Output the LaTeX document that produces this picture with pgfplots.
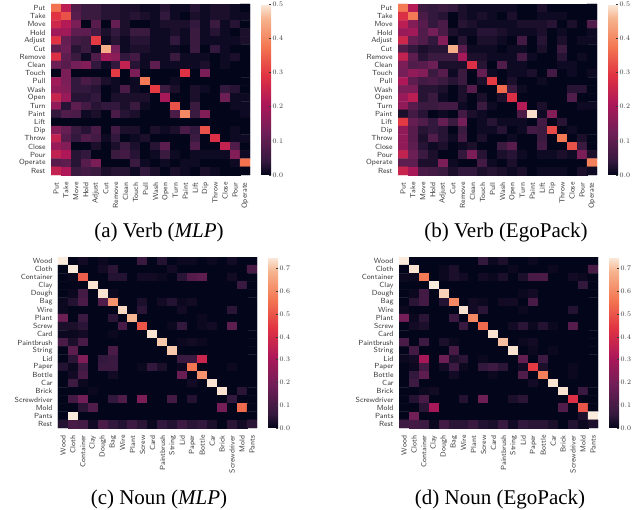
\documentclass[border=0pt]{standalone}
\usepackage{fontspec}
\setmainfont{Liberation Serif}
\usepackage{pgfplots}
\usepackage{pgfplotstable}
\pgfplotsset{compat=1.18}
\definecolor{lab}{gray}{0.22}
\pgfplotsset{
  verblabels/.style={
    xticklabels={Put,Take,Move,Hold,Adjust,Cut,Remove,Clean,Touch,Pull,Wash,Open,Turn,Paint,Lift,Dip,Throw,Close,Pour,Operate},
    yticklabels={Put,Take,Move,Hold,Adjust,Cut,Remove,Clean,Touch,Pull,Wash,Open,Turn,Paint,Lift,Dip,Throw,Close,Pour,Operate,Rest}},
  nounlabels/.style={
    xticklabels={Wood,Cloth,Container,Clay,Dough,Bag,Wire,Plant,Screw,Card,Paintbrush,String,Lid,Paper,Bottle,Car,Brick,Screwdriver,Mold,Pants},
    yticklabels={Wood,Cloth,Container,Clay,Dough,Bag,Wire,Plant,Screw,Card,Paintbrush,String,Lid,Paper,Bottle,Car,Brick,Screwdriver,Mold,Pants,Rest}},
  heat/.style={
    scale only axis, width=199pt, height=171pt, y dir=reverse,
    xmin=-0.5, xmax=19.5, ymin=-0.5, ymax=20.5,
    xtick={0,...,19}, ytick={0,...,20},
    axis line style={draw=none}, major tick length=0pt, tick style={draw=none},
    xtick pos=bottom, ytick pos=left,
    x tick label style={rotate=90, anchor=east, inner sep=0pt, outer sep=0pt, xshift=-7.5pt, font=\sffamily\fontsize{7.4}{8}\selectfont, text=lab},
    y tick label style={anchor=east, inner sep=0pt, outer sep=0pt, xshift=-5.5pt, font=\sffamily\fontsize{7.4}{8}\selectfont, text=lab},
    colormap={rocket}{rgb255(0)=(3,5,26) rgb255(1)=(53,25,62) rgb255(3)=(112,31,87) rgb255(5)=(173,23,89) rgb255(7)=(225,51,66) rgb255(9)=(243,118,81) rgb255(11)=(246,180,143) rgb255(12)=(250,235,221)},
    point meta min=0, colorbar,
    colorbar style={at={(parent axis.north east)}, anchor=north west, xshift=2.5pt,
      width=10pt, axis line style={draw=none}, ytick pos=right,
      xticklabels={}, yticklabel pos=right,
      tick style={draw=lab, line width=0.4pt}, major tick length=2pt,
      y tick label style={inner sep=1.5pt, font=\fontsize{7.4}{8}\selectfont, text=lab,
        /pgf/number format/fixed, /pgf/number format/fixed zerofill, /pgf/number format/precision=1}},
  },
  cell/.style={matrix plot*, mesh/cols=20, mesh/rows=21, point meta=explicit},
}
\newcommand{\cellplot}[1]{\addplot[cell] table[x index=0, y index=0, x expr={round(\coordindex-20*floor((\coordindex+0.5)/20))}, y expr={floor((\coordindex+0.5)/20)}, meta=v] {#1};}
\pgfplotstableread[row sep=crcr]{v\\
.37\\.23\\.08\\.05\\.05\\.03\\.03\\.02\\.02\\.01\\.01\\.03\\.01\\.01\\.03\\.01\\.02\\.02\\.01\\.00\\
.29\\.33\\.09\\.05\\.05\\.03\\.03\\.02\\.03\\.02\\.01\\.04\\.01\\.00\\.02\\.01\\.02\\.02\\.01\\.01\\
.26\\.22\\.14\\.00\\.09\\.00\\.11\\.02\\.00\\.00\\.01\\.02\\.02\\.02\\.04\\.01\\.05\\.01\\.03\\.00\\
.19\\.19\\.10\\.10\\.06\\.02\\.04\\.02\\.05\\.05\\.01\\.01\\.02\\.01\\.05\\.01\\.03\\.01\\.00\\.02\\
.29\\.11\\.06\\.05\\.30\\.01\\.03\\.01\\.03\\.03\\.01\\.01\\.04\\.01\\.05\\.01\\.01\\.01\\.01\\.02\\
.10\\.12\\.03\\.05\\.01\\.45\\.13\\.01\\.02\\.02\\.01\\.01\\.01\\.00\\.05\\.00\\.04\\.01\\.00\\.00\\
.28\\.10\\.05\\.01\\.08\\.19\\.16\\.04\\.06\\.01\\.01\\.01\\.05\\.01\\.01\\.01\\.00\\.01\\.02\\.00\\
.12\\.09\\.13\\.15\\.04\\.01\\.04\\.24\\.03\\.01\\.10\\.01\\.01\\.01\\.01\\.02\\.00\\.01\\.00\\.00\\
.00\\.14\\.00\\.00\\.00\\.00\\.30\\.00\\.14\\.00\\.00\\.00\\.00\\.29\\.00\\.14\\.00\\.00\\.00\\.00\\
.19\\.14\\.04\\.07\\.05\\.02\\.01\\.00\\.01\\.38\\.00\\.00\\.01\\.00\\.00\\.00\\.00\\.00\\.00\\.00\\
.17\\.15\\.04\\.04\\.03\\.00\\.01\\.07\\.01\\.00\\.30\\.05\\.02\\.00\\.02\\.01\\.00\\.04\\.03\\.00\\
.25\\.18\\.03\\.03\\.04\\.00\\.02\\.02\\.02\\.02\\.00\\.20\\.00\\.00\\.02\\.00\\.00\\.12\\.01\\.01\\
.17\\.03\\.10\\.06\\.03\\.04\\.04\\.02\\.05\\.01\\.00\\.00\\.33\\.00\\.05\\.00\\.00\\.00\\.01\\.01\\
.04\\.08\\.07\\.01\\.02\\.00\\.07\\.03\\.02\\.00\\.00\\.00\\.07\\.40\\.05\\.15\\.00\\.00\\.00\\.01\\
.00\\.00\\.00\\.00\\.00\\.00\\.00\\.00\\.00\\.00\\.00\\.00\\.00\\.00\\.00\\.00\\.00\\.00\\.00\\.00\\
.15\\.11\\.05\\.03\\.07\\.00\\.06\\.02\\.02\\.00\\.02\\.01\\.02\\.07\\.04\\.33\\.00\\.00\\.01\\.00\\
.24\\.09\\.04\\.08\\.06\\.01\\.04\\.00\\.01\\.02\\.00\\.00\\.00\\.00\\.05\\.00\\.28\\.00\\.01\\.01\\
.18\\.15\\.00\\.00\\.02\\.00\\.02\\.05\\.02\\.00\\.03\\.10\\.00\\.00\\.08\\.00\\.00\\.24\\.08\\.00\\
.24\\.21\\.03\\.04\\.00\\.00\\.05\\.06\\.03\\.00\\.01\\.05\\.01\\.00\\.01\\.01\\.01\\.01\\.15\\.01\\
.09\\.10\\.03\\.09\\.14\\.00\\.00\\.00\\.05\\.01\\.00\\.01\\.00\\.01\\.01\\.00\\.00\\.00\\.01\\.37\\
.24\\.21\\.05\\.06\\.05\\.02\\.03\\.03\\.01\\.04\\.02\\.00\\.02\\.01\\.00\\.02\\.01\\.00\\.00\\.00\\
}\tableA
\pgfplotstableread[row sep=crcr]{v\\
.38\\.22\\.05\\.04\\.05\\.04\\.02\\.01\\.01\\.01\\.01\\.01\\.00\\.00\\.02\\.00\\.00\\.00\\.00\\.00\\
.28\\.38\\.07\\.04\\.03\\.00\\.02\\.01\\.02\\.01\\.00\\.02\\.00\\.00\\.01\\.01\\.01\\.00\\.00\\.00\\
.23\\.15\\.09\\.04\\.07\\.00\\.03\\.02\\.01\\.01\\.01\\.01\\.02\\.02\\.02\\.03\\.00\\.02\\.00\\.08\\
.18\\.19\\.08\\.13\\.07\\.02\\.01\\.01\\.03\\.03\\.02\\.01\\.01\\.01\\.02\\.00\\.01\\.00\\.00\\.01\\
.26\\.11\\.08\\.04\\.15\\.00\\.03\\.00\\.02\\.02\\.01\\.00\\.06\\.00\\.03\\.00\\.02\\.00\\.01\\.01\\
.08\\.04\\.02\\.03\\.03\\.45\\.09\\.01\\.01\\.01\\.00\\.01\\.01\\.00\\.02\\.00\\.05\\.00\\.00\\.00\\
.24\\.10\\.03\\.05\\.05\\.05\\.20\\.02\\.02\\.01\\.01\\.01\\.06\\.01\\.00\\.00\\.03\\.00\\.01\\.00\\
.14\\.08\\.09\\.12\\.02\\.02\\.02\\.28\\.03\\.00\\.08\\.01\\.01\\.00\\.00\\.00\\.01\\.01\\.00\\.00\\
.13\\.17\\.15\\.05\\.09\\.01\\.05\\.00\\.11\\.01\\.00\\.01\\.01\\.02\\.00\\.06\\.00\\.01\\.00\\.01\\
.21\\.10\\.06\\.07\\.05\\.03\\.05\\.00\\.02\\.30\\.00\\.02\\.00\\.00\\.01\\.00\\.00\\.00\\.00\\.00\\
.14\\.14\\.03\\.03\\.02\\.00\\.02\\.09\\.00\\.00\\.36\\.05\\.01\\.00\\.00\\.00\\.00\\.03\\.03\\.00\\
.18\\.23\\.03\\.05\\.01\\.00\\.02\\.00\\.02\\.00\\.02\\.28\\.00\\.00\\.00\\.00\\.00\\.08\\.00\\.00\\
.17\\.09\\.05\\.05\\.06\\.06\\.01\\.00\\.05\\.01\\.00\\.00\\.22\\.00\\.02\\.00\\.00\\.00\\.01\\.01\\
.02\\.06\\.03\\.00\\.01\\.00\\.06\\.02\\.01\\.00\\.00\\.00\\.07\\.49\\.01\\.15\\.00\\.00\\.00\\.00\\
.30\\.11\\.08\\.04\\.11\\.05\\.13\\.00\\.01\\.03\\.01\\.01\\.01\\.00\\.06\\.00\\.03\\.00\\.00\\.00\\
.17\\.09\\.03\\.04\\.03\\.00\\.05\\.00\\.01\\.01\\.03\\.00\\.01\\.06\\.05\\.32\\.00\\.01\\.00\\.00\\
.17\\.09\\.02\\.08\\.03\\.01\\.06\\.00\\.02\\.00\\.00\\.01\\.00\\.00\\.05\\.00\\.38\\.00\\.02\\.00\\
.17\\.10\\.03\\.01\\.02\\.00\\.01\\.02\\.00\\.00\\.05\\.09\\.00\\.00\\.06\\.00\\.00\\.33\\.05\\.00\\
.24\\.12\\.05\\.02\\.00\\.00\\.04\\.14\\.03\\.00\\.02\\.03\\.01\\.00\\.01\\.01\\.02\\.01\\.14\\.02\\
.10\\.10\\.02\\.02\\.14\\.01\\.00\\.00\\.06\\.01\\.00\\.02\\.00\\.00\\.00\\.00\\.00\\.00\\.00\\.39\\
.25\\.20\\.07\\.06\\.05\\.02\\.04\\.04\\.02\\.03\\.02\\.01\\.02\\.00\\.01\\.01\\.01\\.00\\.02\\.01\\
}\tableB
\pgfplotstableread[row sep=crcr]{v\\
.75\\.00\\.02\\.00\\.01\\.00\\.00\\.00\\.07\\.00\\.04\\.00\\.01\\.01\\.00\\.01\\.00\\.02\\.00\\.00\\
.00\\.75\\.00\\.00\\.02\\.05\\.00\\.00\\.00\\.00\\.00\\.02\\.00\\.00\\.00\\.00\\.00\\.00\\.00\\.10\\
.00\\.01\\.52\\.00\\.00\\.04\\.04\\.00\\.02\\.02\\.01\\.00\\.05\\.13\\.15\\.00\\.00\\.02\\.00\\.00\\
.00\\.00\\.00\\.74\\.00\\.00\\.00\\.00\\.00\\.00\\.00\\.00\\.00\\.00\\.00\\.00\\.00\\.00\\.07\\.00\\
.00\\.01\\.09\\.00\\.74\\.01\\.00\\.00\\.00\\.00\\.00\\.00\\.00\\.00\\.00\\.00\\.00\\.00\\.00\\.00\\
.01\\.04\\.11\\.00\\.12\\.62\\.00\\.00\\.03\\.00\\.02\\.04\\.01\\.02\\.00\\.00\\.00\\.00\\.00\\.00\\
.01\\.00\\.00\\.00\\.00\\.00\\.73\\.00\\.05\\.00\\.00\\.00\\.02\\.00\\.00\\.00\\.00\\.05\\.00\\.00\\
.18\\.00\\.07\\.00\\.00\\.05\\.00\\.69\\.00\\.00\\.00\\.00\\.00\\.00\\.01\\.00\\.00\\.00\\.00\\.00\\
.03\\.03\\.05\\.00\\.00\\.00\\.10\\.00\\.50\\.00\\.00\\.01\\.06\\.00\\.01\\.02\\.00\\.15\\.00\\.00\\
.01\\.01\\.02\\.00\\.00\\.01\\.00\\.00\\.00\\.74\\.00\\.00\\.00\\.00\\.00\\.00\\.00\\.00\\.00\\.00\\
.11\\.03\\.10\\.00\\.00\\.00\\.00\\.00\\.00\\.00\\.71\\.00\\.01\\.02\\.01\\.00\\.00\\.00\\.00\\.00\\
.00\\.14\\.00\\.00\\.00\\.11\\.00\\.00\\.00\\.00\\.00\\.71\\.00\\.00\\.00\\.00\\.00\\.00\\.00\\.00\\
.00\\.05\\.22\\.00\\.06\\.07\\.00\\.00\\.00\\.00\\.00\\.00\\.07\\.07\\.38\\.00\\.00\\.00\\.00\\.00\\
.04\\.01\\.08\\.00\\.07\\.07\\.00\\.00\\.01\\.06\\.03\\.00\\.01\\.56\\.00\\.00\\.00\\.01\\.00\\.00\\
.00\\.02\\.10\\.00\\.00\\.02\\.00\\.00\\.00\\.00\\.00\\.00\\.17\\.00\\.62\\.00\\.00\\.00\\.00\\.00\\
.00\\.08\\.01\\.00\\.00\\.00\\.00\\.00\\.00\\.00\\.00\\.00\\.00\\.02\\.00\\.74\\.00\\.00\\.00\\.00\\
.00\\.00\\.00\\.01\\.00\\.00\\.00\\.00\\.00\\.00\\.00\\.00\\.00\\.00\\.00\\.00\\.74\\.00\\.05\\.00\\
.00\\.09\\.19\\.00\\.00\\.06\\.12\\.00\\.21\\.00\\.00\\.09\\.00\\.04\\.00\\.00\\.00\\.06\\.00\\.00\\
.00\\.00\\.05\\.12\\.00\\.00\\.00\\.00\\.00\\.00\\.00\\.00\\.00\\.00\\.00\\.00\\.20\\.00\\.54\\.00\\
.00\\.75\\.00\\.00\\.00\\.00\\.00\\.00\\.00\\.00\\.00\\.00\\.00\\.00\\.00\\.00\\.00\\.00\\.00\\.00\\
.04\\.10\\.09\\.02\\.11\\.06\\.04\\.08\\.05\\.01\\.06\\.04\\.08\\.05\\.06\\.03\\.00\\.05\\.02\\.05\\
}\tableC
\pgfplotstableread[row sep=crcr]{v\\
.75\\.00\\.00\\.00\\.00\\.00\\.00\\.00\\.06\\.01\\.03\\.00\\.00\\.01\\.00\\.00\\.00\\.00\\.00\\.00\\
.00\\.74\\.00\\.00\\.01\\.03\\.00\\.00\\.00\\.00\\.00\\.01\\.00\\.00\\.00\\.01\\.00\\.00\\.00\\.10\\
.01\\.01\\.57\\.00\\.01\\.03\\.02\\.00\\.02\\.01\\.03\\.00\\.03\\.10\\.11\\.00\\.00\\.02\\.01\\.00\\
.00\\.00\\.00\\.75\\.00\\.00\\.00\\.00\\.00\\.00\\.00\\.00\\.00\\.00\\.00\\.00\\.00\\.00\\.06\\.00\\
.00\\.01\\.09\\.00\\.72\\.00\\.00\\.00\\.00\\.00\\.00\\.00\\.01\\.02\\.00\\.00\\.00\\.00\\.00\\.00\\
.00\\.05\\.09\\.00\\.04\\.60\\.00\\.02\\.01\\.00\\.02\\.02\\.00\\.10\\.00\\.00\\.00\\.00\\.00\\.00\\
.01\\.00\\.00\\.00\\.00\\.00\\.74\\.02\\.05\\.00\\.00\\.00\\.01\\.00\\.00\\.00\\.00\\.04\\.00\\.00\\
.20\\.01\\.05\\.00\\.00\\.07\\.00\\.60\\.00\\.00\\.00\\.00\\.00\\.00\\.00\\.00\\.00\\.00\\.00\\.00\\
.00\\.02\\.03\\.00\\.00\\.00\\.07\\.00\\.54\\.00\\.00\\.02\\.05\\.01\\.04\\.01\\.00\\.13\\.00\\.00\\
.00\\.00\\.00\\.00\\.00\\.00\\.00\\.00\\.00\\.74\\.00\\.00\\.00\\.00\\.00\\.00\\.00\\.00\\.00\\.00\\
.11\\.00\\.08\\.00\\.03\\.01\\.00\\.00\\.00\\.00\\.70\\.00\\.01\\.02\\.00\\.00\\.00\\.00\\.00\\.00\\
.00\\.09\\.00\\.00\\.00\\.10\\.00\\.00\\.00\\.00\\.00\\.74\\.00\\.01\\.00\\.01\\.00\\.00\\.00\\.00\\
.01\\.02\\.30\\.00\\.18\\.03\\.05\\.00\\.01\\.00\\.00\\.00\\.16\\.00\\.08\\.00\\.00\\.00\\.00\\.00\\
.00\\.01\\.09\\.00\\.02\\.08\\.01\\.00\\.06\\.08\\.05\\.00\\.02\\.45\\.03\\.00\\.00\\.01\\.00\\.00\\
.00\\.06\\.15\\.00\\.00\\.02\\.00\\.00\\.00\\.01\\.00\\.00\\.12\\.00\\.58\\.00\\.00\\.01\\.00\\.00\\
.00\\.08\\.00\\.00\\.00\\.00\\.00\\.00\\.00\\.00\\.00\\.00\\.00\\.02\\.00\\.74\\.00\\.00\\.00\\.00\\
.00\\.00\\.01\\.02\\.00\\.00\\.00\\.00\\.00\\.00\\.00\\.00\\.00\\.00\\.00\\.00\\.74\\.00\\.07\\.00\\
.00\\.04\\.10\\.00\\.00\\.00\\.04\\.00\\.18\\.00\\.00\\.03\\.05\\.00\\.00\\.00\\.00\\.42\\.00\\.00\\
.00\\.00\\.05\\.30\\.00\\.00\\.00\\.00\\.00\\.00\\.00\\.00\\.00\\.00\\.00\\.00\\.12\\.00\\.50\\.00\\
.00\\.19\\.00\\.00\\.00\\.00\\.00\\.00\\.00\\.00\\.00\\.00\\.00\\.00\\.00\\.00\\.00\\.00\\.03\\.75\\
.08\\.09\\.08\\.01\\.09\\.05\\.05\\.07\\.04\\.03\\.07\\.02\\.06\\.05\\.05\\.03\\.00\\.04\\.01\\.03\\
}\tableD
\begin{document}
\begin{tikzpicture}[x=1pt,y=1pt]
\path[use as bounding box] (0,0) rectangle (637,509);
\begin{axis}[heat, verblabels, at={(51pt,334pt)}, anchor=south west, point meta max=0.5,
  colorbar style={ytick={0,0.1,0.2,0.3,0.4,0.5}}]
\cellplot{\tableA}
\end{axis}
\begin{axis}[heat, verblabels, at={(398pt,334pt)}, anchor=south west, point meta max=0.5,
  colorbar style={ytick={0,0.1,0.2,0.3,0.4,0.5}}]
\cellplot{\tableB}
\end{axis}
\begin{axis}[heat, nounlabels, at={(58pt,81pt)}, anchor=south west, point meta max=0.75,
  colorbar style={ytick={0,0.1,0.2,0.3,0.4,0.5,0.6,0.7}}]
\cellplot{\tableC}
\end{axis}
\begin{axis}[heat, nounlabels, at={(399pt,81pt)}, anchor=south west, point meta max=0.75,
  colorbar style={ytick={0,0.1,0.2,0.3,0.4,0.5,0.6,0.7}}]
\cellplot{\tableD}
\end{axis}
\node[font=\fontsize{21}{22}\selectfont] at (159,277) {(a) Verb (\textit{MLP})};
\node[font=\fontsize{21}{22}\selectfont] at (506,277) {(b) Verb (EgoPack)};
\node[font=\fontsize{21}{22}\selectfont] at (159,10) {(c) Noun (\textit{MLP})};
\node[font=\fontsize{21}{22}\selectfont] at (500,10) {(d) Noun (EgoPack)};
\end{tikzpicture}
\end{document}
